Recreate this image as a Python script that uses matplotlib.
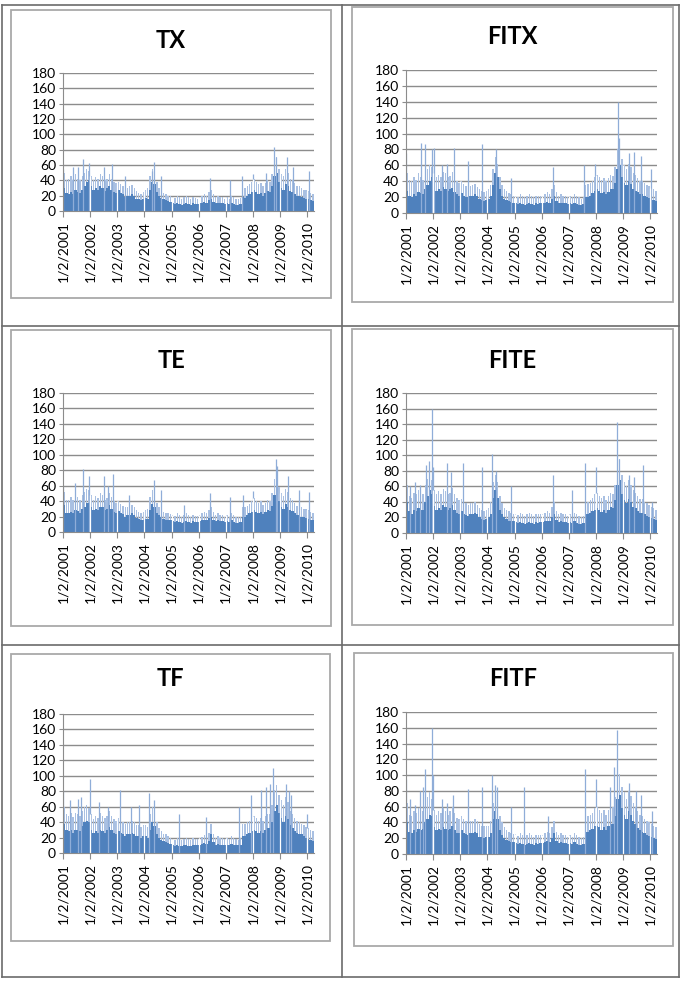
import matplotlib
matplotlib.use("Agg")
import matplotlib.pyplot as plt
import numpy as np
from matplotlib.lines import Line2D
from matplotlib.patches import Rectangle

# monthly levels, Jan 2001 .. Mar 2010
# *_LO = dense dark body, *_HI = lighter fuzz above it, *_SPIKE = single tall days
TX_LO = [30, 24, 22, 25, 22, 27, 25, 23, 28, 32, 38, 40,
         33, 28, 30, 27, 32, 30, 26, 30, 33, 28, 25, 24,
         27, 24, 22, 18, 20, 20, 22, 20, 16, 15, 14, 15,
         17, 16, 28, 38, 35, 25, 20, 17, 15, 14, 13, 12,
         10, 9, 10, 9, 8, 9, 10, 9, 8, 10, 9, 9,
         10, 11, 12, 11, 14, 16, 12, 10, 11, 10, 10, 9,
         10, 9, 11, 9, 8, 8, 9, 18, 17, 20, 22, 25,
         27, 25, 22, 24, 20, 24, 26, 25, 32, 45, 50, 38,
         30, 28, 35, 32, 26, 25, 22, 20, 20, 18, 17, 16,
         15, 14, 13]
TX_HI = [50, 40, 42, 45, 40, 48, 42, 40, 45, 50, 55, 52,
         45, 40, 44, 42, 48, 45, 40, 42, 48, 42, 38, 36,
         38, 35, 32, 30, 30, 32, 34, 30, 26, 24, 22, 25,
         28, 30, 45, 55, 50, 38, 30, 26, 24, 22, 20, 20,
         18, 17, 20, 18, 16, 18, 20, 18, 16, 18, 17, 16,
         18, 20, 22, 20, 25, 28, 22, 18, 20, 18, 18, 16,
         18, 16, 20, 18, 16, 15, 17, 30, 30, 32, 35, 38,
         42, 38, 35, 36, 32, 36, 40, 38, 48, 65, 70, 55,
         48, 45, 55, 50, 42, 40, 36, 32, 32, 30, 28, 28,
         26, 24, 22]
TX_SPIKE_AT = [0.2, 4.4, 6.6, 8.8, 11.5, 18.0, 21.6, 27.6, 39.4, 40.1, 43.4,
               65.0, 74.0, 79.0, 84.0, 89.7, 93.4, 94.0, 99.0, 101.5, 108.8]
TX_SPIKE_VAL = [55, 57, 58, 68, 62, 57, 61, 45, 52, 64, 45,
                43, 40, 46, 48, 50, 83, 70, 70, 58, 52]

FITX_LO = [28, 22, 20, 24, 22, 26, 25, 24, 30, 35, 40, 45,
           32, 28, 30, 28, 33, 30, 28, 30, 32, 27, 24, 22,
           25, 22, 20, 20, 22, 22, 24, 22, 18, 16, 15, 16,
           18, 22, 35, 50, 45, 30, 22, 18, 16, 15, 14, 13,
           12, 11, 12, 11, 10, 11, 12, 11, 10, 12, 11, 12,
           12, 13, 14, 13, 18, 22, 15, 12, 13, 12, 12, 11,
           12, 11, 13, 11, 10, 10, 11, 20, 20, 22, 25, 28,
           30, 28, 25, 27, 24, 27, 30, 30, 38, 55, 60, 45,
           38, 35, 40, 36, 30, 28, 26, 24, 24, 22, 20, 19,
           17, 16, 15]
FITX_HI = [50, 42, 40, 45, 42, 50, 45, 42, 50, 55, 60, 58,
           50, 45, 48, 45, 52, 50, 45, 46, 52, 45, 40, 38,
           40, 36, 34, 32, 34, 35, 36, 33, 30, 28, 26, 28,
           30, 35, 55, 70, 62, 45, 35, 30, 28, 25, 24, 22,
           22, 20, 24, 22, 20, 22, 24, 22, 20, 22, 22, 22,
           22, 24, 26, 24, 30, 35, 26, 22, 24, 22, 22, 20,
           22, 20, 24, 22, 20, 18, 20, 35, 36, 38, 40, 45,
           48, 45, 42, 44, 40, 44, 48, 46, 58, 80, 85, 68,
           60, 55, 62, 58, 50, 48, 44, 40, 40, 38, 35, 34,
           32, 30, 28]
FITX_SPIKE_AT = [0.2, 6.5, 8.4, 11.5, 12.5, 15.7, 18.0, 21.3, 27.5, 33.8, 40.0,
                 46.6, 65.0, 78.7, 83.4, 93.7, 94.1, 98.8, 101.0, 104.0, 108.4]
FITX_SPIKE_VAL = [75, 88, 87, 80, 82, 60, 62, 82, 66, 87, 80,
                  44, 58, 60, 62, 140, 95, 75, 77, 72, 55]

TE_LO = [35, 25, 24, 26, 24, 28, 27, 25, 30, 33, 38, 38,
         32, 28, 30, 28, 33, 32, 28, 30, 35, 30, 26, 25,
         27, 25, 23, 20, 22, 22, 24, 22, 18, 17, 16, 16,
         17, 17, 28, 36, 32, 25, 22, 19, 17, 16, 15, 15,
         14, 13, 14, 13, 12, 13, 14, 13, 12, 14, 13, 13,
         14, 15, 16, 15, 18, 20, 16, 14, 15, 14, 14, 13,
         14, 13, 15, 13, 12, 12, 13, 20, 20, 22, 24, 26,
         28, 26, 24, 26, 23, 26, 28, 27, 34, 48, 52, 40,
         32, 30, 36, 33, 28, 27, 24, 22, 22, 20, 19, 18,
         17, 16, 15]
TE_HI = [52, 42, 42, 45, 42, 50, 45, 42, 48, 52, 56, 54,
         48, 42, 46, 44, 50, 48, 42, 44, 50, 45, 40, 38,
         40, 36, 34, 32, 32, 34, 35, 32, 28, 26, 25, 26,
         28, 30, 45, 55, 48, 38, 32, 28, 26, 25, 24, 23,
         22, 21, 24, 22, 20, 22, 24, 22, 20, 22, 21, 21,
         22, 24, 26, 24, 28, 32, 26, 22, 24, 22, 22, 20,
         22, 20, 24, 22, 20, 19, 20, 32, 32, 34, 36, 40,
         44, 40, 38, 40, 35, 38, 42, 40, 50, 68, 72, 58,
         50, 46, 56, 52, 44, 42, 38, 34, 34, 32, 30, 30,
         28, 26, 24]
TE_SPIKE_AT = [0.2, 5.1, 8.8, 11.3, 18.0, 19.9, 22.0, 29.0, 40.1, 43.4, 53.7,
               65.0, 74.0, 79.4, 84.0, 94.0, 94.5, 99.7, 104.4, 109.0]
TE_SPIKE_VAL = [58, 63, 82, 72, 72, 60, 75, 48, 67, 55, 35,
                50, 45, 48, 53, 95, 85, 73, 55, 52]

FITE_LO = [40, 28, 25, 30, 28, 32, 30, 30, 40, 48, 55, 50,
           35, 30, 32, 30, 36, 34, 30, 32, 36, 30, 26, 25,
           28, 25, 23, 22, 24, 24, 26, 24, 20, 18, 17, 18,
           20, 25, 45, 55, 45, 30, 24, 20, 18, 16, 15, 15,
           14, 13, 14, 13, 12, 13, 14, 13, 12, 14, 13, 14,
           14, 15, 16, 15, 20, 25, 17, 14, 15, 14, 14, 13,
           14, 13, 15, 13, 12, 12, 13, 24, 24, 26, 28, 30,
           32, 30, 27, 30, 26, 30, 33, 32, 42, 62, 68, 50,
           42, 38, 44, 40, 34, 32, 28, 26, 26, 24, 22, 21,
           19, 18, 17]
FITE_HI = [62, 48, 45, 52, 50, 55, 52, 50, 62, 70, 75, 68,
           55, 50, 54, 50, 56, 54, 50, 52, 58, 50, 45, 42,
           44, 40, 38, 36, 38, 38, 40, 36, 32, 30, 28, 30,
           32, 40, 65, 75, 65, 48, 38, 32, 30, 28, 26, 25,
           25, 23, 26, 24, 22, 24, 26, 24, 22, 24, 24, 24,
           24, 26, 28, 26, 34, 40, 28, 24, 26, 24, 24, 22,
           24, 22, 26, 24, 22, 20, 22, 40, 40, 42, 45, 50,
           52, 48, 45, 48, 42, 48, 52, 50, 62, 90, 95, 75,
           65, 60, 68, 62, 55, 52, 48, 44, 44, 40, 38, 36,
           34, 32, 30]
FITE_SPIKE_AT = [0.2, 1.8, 4.0, 6.2, 8.8, 10.3, 11.3, 12.0, 18.0, 20.0, 25.0,
                 33.8, 38.0, 40.0, 46.6, 65.0, 73.5, 79.0, 84.0, 93.5, 94.0,
                 98.8, 101.0, 104.7, 109.0]
FITE_SPIKE_VAL = [95, 60, 65, 62, 88, 92, 160, 85, 90, 78, 90,
                  85, 102, 80, 60, 75, 55, 90, 85, 143, 95,
                  75, 72, 88, 40]

TF_LO = [38, 30, 28, 30, 26, 30, 30, 28, 35, 40, 42, 40,
         30, 26, 28, 26, 30, 28, 26, 30, 34, 30, 26, 25,
         28, 26, 24, 22, 24, 24, 26, 24, 22, 22, 20, 22,
         22, 20, 30, 40, 35, 25, 20, 17, 15, 14, 13, 12,
         10, 9, 10, 9, 9, 10, 10, 9, 9, 10, 10, 10,
         11, 12, 13, 12, 15, 25, 14, 11, 12, 11, 11, 10,
         11, 10, 12, 10, 10, 10, 11, 22, 22, 24, 26, 28,
         30, 28, 26, 28, 26, 30, 32, 32, 40, 55, 62, 52,
         45, 40, 48, 44, 36, 32, 28, 26, 25, 24, 22, 20,
         18, 17, 16]
TF_HI = [60, 50, 48, 52, 46, 52, 50, 48, 55, 60, 62, 58,
         50, 44, 48, 45, 52, 48, 45, 48, 55, 48, 44, 42,
         45, 42, 40, 38, 40, 40, 42, 40, 36, 36, 34, 36,
         36, 34, 50, 60, 55, 40, 32, 28, 25, 24, 22, 20,
         18, 17, 19, 18, 17, 18, 19, 18, 17, 19, 18, 18,
         20, 21, 23, 22, 26, 38, 24, 20, 22, 20, 20, 18,
         20, 18, 22, 20, 18, 17, 19, 38, 38, 40, 42, 46,
         48, 45, 42, 45, 42, 48, 50, 50, 62, 82, 88, 75,
         68, 62, 72, 66, 55, 50, 45, 42, 40, 38, 36, 34,
         32, 30, 28]
TF_SPIKE_AT = [0.2, 2.9, 6.6, 8.1, 11.8, 15.9, 19.9, 25.0, 30.1, 33.7, 38.2,
               40.4, 51.2, 63.2, 78.0, 83.0, 87.5, 89.7, 91.6, 93.0, 98.5,
               100.0, 100.7, 108.0]
TF_SPIKE_VAL = [80, 68, 70, 72, 96, 66, 60, 81, 60, 62, 78,
                68, 50, 47, 60, 75, 82, 85, 90, 110, 90,
                80, 75, 50]

FITF_LO = [40, 28, 26, 30, 28, 32, 30, 32, 40, 45, 50, 48,
           34, 30, 32, 30, 34, 32, 30, 32, 36, 30, 27, 26,
           30, 27, 25, 24, 26, 26, 28, 26, 22, 21, 20, 21,
           22, 26, 45, 55, 45, 30, 24, 20, 18, 16, 15, 15,
           14, 13, 14, 13, 12, 13, 14, 13, 12, 14, 13, 14,
           14, 15, 16, 15, 20, 26, 17, 14, 15, 14, 14, 13,
           14, 13, 15, 13, 12, 12, 13, 28, 28, 30, 32, 35,
           36, 34, 30, 34, 30, 35, 38, 38, 48, 70, 75, 58,
           50, 45, 55, 50, 42, 38, 33, 30, 28, 26, 24, 23,
           21, 20, 19]
FITF_HI = [65, 50, 48, 55, 52, 58, 55, 55, 65, 72, 78, 70,
           56, 50, 55, 52, 58, 55, 50, 54, 60, 52, 46, 44,
           48, 44, 42, 40, 42, 42, 45, 42, 38, 36, 35, 36,
           36, 42, 65, 78, 65, 48, 40, 34, 30, 28, 26, 25,
           25, 23, 26, 24, 22, 24, 26, 24, 22, 24, 24, 24,
           24, 26, 28, 26, 34, 42, 28, 24, 26, 24, 24, 22,
           24, 22, 26, 24, 22, 20, 22, 48, 48, 50, 52, 58,
           60, 56, 52, 56, 50, 56, 60, 60, 72, 98, 102, 85,
           78, 70, 80, 74, 65, 60, 55, 50, 48, 45, 42, 40,
           38, 36, 34]
FITF_SPIKE_AT = [0.2, 1.8, 4.0, 6.2, 7.4, 8.4, 11.3, 11.8, 15.7, 18.0, 20.9,
                 27.5, 33.8, 38.0, 39.3, 40.3, 46.6, 52.2, 63.0, 79.0, 84.0,
                 90.0, 92.0, 93.2, 98.5, 101.8, 104.0, 109.0]
FITF_SPIKE_VAL = [95, 70, 62, 80, 85, 108, 160, 100, 70, 65, 75,
                  83, 85, 100, 88, 85, 60, 85, 48, 108, 95,
                  85, 110, 157, 90, 80, 75, 55]

YEAR_LABELS = ["1/2/2001", "1/2/2002", "1/2/2003", "1/2/2004", "1/2/2005",
               "1/2/2006", "1/2/2007", "1/2/2008", "1/2/2009", "1/2/2010"]

W, H = 688, 983
DARK = "#4f81bd"
LIGHT = "#a9c0e2"
SPIKE = "#8fadd8"
GRID = "#8c8c8c"

plt.rcParams["font.family"] = ["Lato", "DejaVu Sans"]

fig = plt.figure(figsize=(W / 100, H / 100), dpi=100)


def px_rect(x0, y0, x1, y1):
    """pixel box (top-left origin) -> figure fraction rect"""
    return [x0 / W, 1 - y1 / H, (x1 - x0) / W, (y1 - y0) / H]


def draw_panel(name, lo, hi, spike_at, spike_val, box, plot, title_y):
    r = px_rect(*box)
    fig.add_artist(Rectangle((r[0], r[1]), r[2], r[3], transform=fig.transFigure,
                             fill=False, edgecolor="#a9a9a9", linewidth=1.3))
    fig.text((box[0] + box[2]) / 2 / W, 1 - title_y / H, name,
             ha="center", va="center", fontsize=17, fontweight="bold")

    ax = fig.add_axes(px_rect(*plot))
    months = np.arange(len(lo)) + 0.5
    # narrow light bars leave white slits, like the thin daily spikes
    ax.bar(months, hi, width=0.6, color=LIGHT, linewidth=0)
    ax.bar(months, lo, width=1.0, color=DARK, linewidth=0)
    ax.vlines(spike_at, 0, spike_val, color=SPIKE, linewidth=0.9)

    ticks = np.arange(0, 12 * len(YEAR_LABELS), 12)
    # Excel leaves thin white gaps at the category ticks
    ax.vlines(ticks[1:], 0, [hi[t] for t in ticks[1:]], color="white", linewidth=0.9)

    ax.set_xlim(0, len(lo))
    ax.set_ylim(0, 180)
    ax.set_yticks(range(0, 181, 20))
    ax.set_xticks(ticks)
    ax.set_xticklabels(YEAR_LABELS, rotation=90)
    ax.set_axisbelow(True)
    ax.grid(axis="y", color=GRID, linewidth=1.0)
    for side in ("top", "right"):
        ax.spines[side].set_visible(False)
    for side in ("left", "bottom"):
        ax.spines[side].set_color(GRID)
    ax.tick_params(axis="x", length=4, color=GRID, labelsize=10, pad=3)
    ax.tick_params(axis="y", length=3, color=GRID, labelsize=10, pad=2)


draw_panel("TX", TX_LO, TX_HI, TX_SPIKE_AT, TX_SPIKE_VAL,
           (11, 10, 331, 298), (63, 73, 314, 211), 40)
draw_panel("FITX", FITX_LO, FITX_HI, FITX_SPIKE_AT, FITX_SPIKE_VAL,
           (352, 7, 673, 302), (406, 70, 657, 213), 37)
draw_panel("TE", TE_LO, TE_HI, TE_SPIKE_AT, TE_SPIKE_VAL,
           (11, 330, 331, 626), (63, 393, 314, 532), 361)
draw_panel("FITE", FITE_LO, FITE_HI, FITE_SPIKE_AT, FITE_SPIKE_VAL,
           (352, 329, 673, 625), (406, 393, 657, 533), 361)
draw_panel("TF", TF_LO, TF_HI, TF_SPIKE_AT, TF_SPIKE_VAL,
           (11, 654, 330, 941), (63, 714, 314, 853), 679)
draw_panel("FITF", FITF_LO, FITF_HI, FITF_SPIKE_AT, FITF_SPIKE_VAL,
           (354, 653, 673, 946), (406, 712, 657, 854), 678)

# table grid around the six charts
for x in (2, 342, 679):
    fig.add_artist(Line2D([x / W, x / W], [1 - 5 / H, 1 - 977 / H],
                          transform=fig.transFigure, color="#6b6b6b", linewidth=1.2))
for y in (5, 326, 645, 977):
    fig.add_artist(Line2D([2 / W, 679 / W], [1 - y / H, 1 - y / H],
                          transform=fig.transFigure, color="#6b6b6b", linewidth=1.2))

fig.savefig("out.png", dpi=100)
